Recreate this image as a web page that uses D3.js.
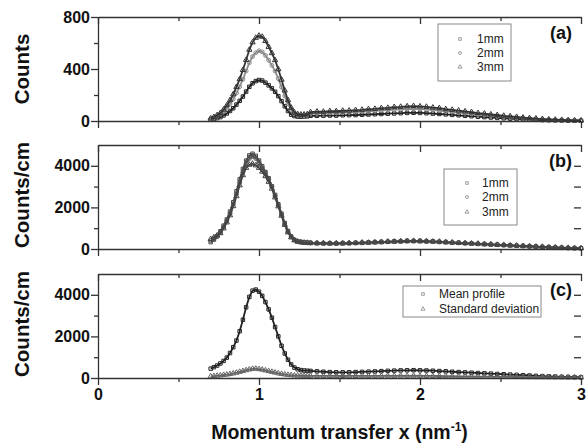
<!DOCTYPE html>
<html>
<head>
<meta charset="utf-8">
<script src="https://cdn.jsdelivr.net/npm/d3@7"></script>
<style>
  body { margin: 0; background: #fff; }
  svg { font-family: "Liberation Sans", Arial, sans-serif; }
</style>
</head>
<body>
<div id="chart"></div>
<script>
// Momentum transfer grid (nm^-1): fine steps over the peak, coarser in the tail
const xValues = [
  0.70, 0.72, 0.74, 0.76, 0.78, 0.80, 0.82, 0.84, 0.86, 0.88, 0.90, 0.92, 0.94, 0.96, 0.98, 1.00,
  1.02, 1.04, 1.06, 1.08, 1.10, 1.12, 1.14, 1.16, 1.18, 1.20, 1.22, 1.24, 1.26, 1.28, 1.30,
  1.32, 1.36, 1.40, 1.44, 1.48, 1.52, 1.56, 1.60, 1.64, 1.68, 1.72, 1.76, 1.80, 1.84, 1.88, 1.92,
  1.96, 2.00, 2.04, 2.08, 2.12, 2.16, 2.20, 2.24, 2.28, 2.32, 2.36, 2.40, 2.44, 2.48, 2.52, 2.56,
  2.60, 2.64, 2.68, 2.72, 2.76, 2.80, 2.84, 2.88, 2.92, 2.96, 3.00
];

// (a) Counts
const countsA1 = [
  10, 15, 22, 30, 43, 58, 77, 98, 126, 155, 188, 226, 263, 290, 307, 315,
  311, 295, 274, 251, 225, 191, 153, 113, 77, 49, 38, 34, 33, 35, 36,
  40, 40, 41, 42, 42, 44, 45, 46, 48, 50, 52, 54, 56, 58, 60, 62,
  63, 62, 60, 57, 54, 51, 47, 44, 40, 37, 33, 30, 27, 24, 21, 18,
  15, 13, 11, 9, 7, 6, 5, 4, 3, 2, 2
];
const countsA2 = [
  17, 25, 37, 51, 72, 98, 131, 168, 215, 264, 321, 385, 449, 496, 525, 540,
  532, 505, 468, 428, 384, 326, 261, 193, 131, 84, 56, 46, 43, 45, 47,
  56, 58, 60, 62, 63, 65, 67, 69, 72, 75, 78, 81, 84, 87, 90, 92,
  93, 92, 89, 85, 80, 75, 70, 65, 60, 55, 50, 46, 41, 37, 33, 29,
  25, 21, 18, 15, 12, 10, 8, 6, 5, 4, 3
];
const countsA3 = [
  20, 30, 45, 62, 88, 120, 160, 205, 262, 322, 392, 470, 548, 605, 640, 656,
  648, 615, 570, 522, 468, 398, 318, 235, 160, 102, 66, 53, 49, 50, 52,
  68, 72, 71, 76, 75, 79, 80, 84, 86, 91, 93, 99, 101, 107, 109, 113,
  115, 112, 109, 103, 99, 91, 86, 80, 74, 69, 61, 57, 50, 46, 40, 36,
  31, 26, 22, 19, 15, 12, 10, 8, 6, 5, 4
];

// (b) Counts/cm
const countsB1 = [
  330, 450, 620, 850, 1120, 1420, 1800, 2250, 2780, 3350, 3850, 4250, 4500, 4580, 4480, 4250,
  3980, 3700, 3400, 3020, 2600, 2150, 1700, 1250, 870, 600, 440, 370, 335, 315, 305,
  300, 285, 270, 280, 265, 285, 275, 300, 295, 320, 330, 345, 345, 370, 365, 395,
  380, 390, 365, 370, 340, 335, 300, 305, 275, 270, 245, 240, 215, 210, 185, 180,
  155, 150, 125, 120, 95, 90, 70, 62, 48, 44, 34
];
const countsB2 = [
  400, 500, 600, 800, 1050, 1350, 1700, 2150, 2650, 3200, 3700, 4100, 4350, 4450, 4350, 4150,
  3900, 3650, 3350, 3000, 2550, 2100, 1650, 1200, 830, 580, 430, 360, 330, 310, 300,
  290, 280, 275, 270, 270, 275, 280, 290, 300, 310, 325, 335, 350, 360, 370, 380,
  385, 380, 370, 360, 345, 330, 310, 295, 280, 265, 250, 235, 220, 205, 190, 175,
  160, 145, 130, 115, 100, 85, 72, 60, 50, 42, 36
];
const countsB3 = [
  480, 560, 650, 760, 990, 1280, 1620, 2060, 2540, 3060, 3550, 3900, 4050, 4100, 4020, 3900,
  3720, 3500, 3230, 2900, 2480, 2050, 1600, 1160, 800, 560, 420, 350, 325, 305, 295,
  280, 275, 280, 262, 275, 268, 288, 282, 308, 302, 318, 328, 356, 352, 378, 372,
  392, 372, 378, 352, 350, 322, 316, 288, 285, 260, 255, 230, 225, 200, 195, 170,
  165, 140, 135, 110, 105, 80, 75, 58, 52, 40, 38
];

// (c) Mean profile and standard deviation
const meanProfile = [
  450, 520, 600, 700, 820, 980, 1200, 1480, 1800, 2250, 2800, 3400, 3900, 4200, 4250, 4150,
  3950, 3650, 3300, 2900, 2450, 2000, 1550, 1180, 880, 650, 500, 420, 380, 360, 350,
  340, 320, 300, 285, 275, 270, 275, 285, 295, 305, 315, 330, 345, 355, 365, 370,
  375, 370, 360, 350, 335, 320, 300, 285, 270, 255, 240, 225, 210, 195, 180, 165,
  150, 135, 120, 105, 92, 80, 68, 58, 50, 42, 36
];
const stdDeviation = [
  80, 95, 110, 125, 145, 165, 190, 220, 255, 295, 335, 375, 410, 440, 450, 430,
  400, 365, 330, 295, 260, 225, 195, 170, 150, 135, 125, 118, 112, 108, 105,
  105, 102, 100, 98, 100, 97, 102, 99, 104, 101, 105, 103, 108, 104, 110, 106,
  108, 104, 102, 98, 95, 90, 86, 82, 78, 74, 70, 66, 62, 58, 55, 51,
  48, 44, 41, 38, 35, 32, 29, 26, 24, 22, 20
];

const sampleLabels = ["1mm", "2mm", "3mm"];
const profileLabels = ["Mean profile", "Standard deviation"];
const xTicks = [0, 1, 2, 3];
const xMinorTicks = [0.5, 1.5, 2.5];

// Panels: values, labels, y ticks
const panels = [
  { tag: "(a)", title: "Counts", yMax: 800, yTicks: [0, 400, 800], yMinor: [200, 600], rightTicks: [],
    series: [countsA1, countsA2, countsA3], names: sampleLabels },
  { tag: "(b)", title: "Counts/cm", yMax: 5000, yTicks: [0, 2000, 4000], yMinor: [1000, 3000], rightTicks: [1000, 2000, 3000, 4000],
    series: [countsB1, countsB2, countsB3], names: sampleLabels },
  { tag: "(c)", title: "Counts/cm", yMax: 5000, yTicks: [0, 2000, 4000], yMinor: [1000, 3000], rightTicks: [1000, 2000, 3000, 4000],
    series: [meanProfile, stdDeviation], names: profileLabels }
];

// Layout
const width = 587, height = 443;
const plotLeft = 98, plotRight = 581;
const panelTops = [17, 145, 274], panelH = 104;
const legendBoxes = [
  { x: 438, y: 24, w: 73, h: 57, symX: 460, textX: 477, rowY: [39, 53, 67] },
  { x: 444, y: 169, w: 73, h: 56, symX: 467, textX: 482, rowY: [183, 197, 212] },
  { x: 403, y: 286, w: 138, h: 31, symX: 423, textX: 439, rowY: [294, 309] }
];
const symbolsABC = [
  [d3.symbolSquare, d3.symbolCircle, d3.symbolTriangle],
  [d3.symbolSquare, d3.symbolCircle, d3.symbolTriangle],
  [d3.symbolSquare, d3.symbolTriangle]
];
const markColors = [
  ["#222", "#8a8a8a", "#333"],
  ["#444", "#555", "#444"],
  ["#222", "#666"]
];
const axisColor = "#333";

const svg = d3.select("#chart")
  .append("svg")
  .attr("width", width)
  .attr("height", height);

const xScale = d3.scaleLinear().domain([0, 3]).range([plotLeft, plotRight]);

panels.forEach((p, i) => {
  const top = panelTops[i];
  const bottom = top + panelH;
  const yScale = d3.scaleLinear().domain([0, p.yMax]).range([bottom, top]);
  const g = svg.append("g");

  // data: line under open markers, drawn thick to mimic the dense scatter
  p.series.forEach((vals, s) => {
    const pts = xValues.map((x, k) => [x, vals[k]]);
    g.append("path")
      .datum(pts)
      .attr("fill", "none")
      .attr("stroke", markColors[i][s])
      .attr("stroke-width", 1.8)
      .attr("d", d3.line().x(d => xScale(d[0])).y(d => yScale(d[1])));
    g.selectAll(null)
      .data(pts)
      .enter().append("path")
      .attr("transform", d => `translate(${xScale(d[0])},${yScale(d[1])})`)
      .attr("d", d3.symbol().type(symbolsABC[i][s]).size(12))
      .attr("fill", "none")
      .attr("stroke", markColors[i][s])
      .attr("stroke-width", 1);
  });

  // bottom axis (outward ticks), labels only on last panel
  const bottomAxis = d3.axisBottom(xScale).tickValues(xTicks).tickSize(7).tickSizeOuter(0)
    .tickPadding(4)
    .tickFormat(i === 2 ? d3.format("d") : "");
  g.append("g").attr("transform", `translate(0,${bottom})`).call(bottomAxis);
  g.append("g").attr("transform", `translate(0,${bottom})`)
    .call(d3.axisBottom(xScale).tickValues(xMinorTicks).tickSize(4).tickFormat(""))
    .select(".domain").remove();

  // top frame with inward ticks
  g.append("g").attr("transform", `translate(0,${top})`)
    .call(d3.axisBottom(xScale).tickValues(xTicks).tickSize(7).tickSizeOuter(0).tickFormat(""));
  g.append("g").attr("transform", `translate(0,${top})`)
    .call(d3.axisBottom(xScale).tickValues(xMinorTicks).tickSize(4).tickFormat(""))
    .select(".domain").remove();

  // left axis
  g.append("g").attr("transform", `translate(${plotLeft},0)`)
    .call(d3.axisLeft(yScale).tickValues(p.yTicks).tickSize(7).tickSizeOuter(0).tickPadding(1)
      .tickFormat(d3.format("d")));
  g.append("g").attr("transform", `translate(${plotLeft},0)`)
    .call(d3.axisLeft(yScale).tickValues(p.yMinor).tickSize(4).tickFormat(""))
    .select(".domain").remove();

  // right side: inward ticks only
  if (p.rightTicks.length) {
    g.append("g").attr("transform", `translate(${plotRight},0)`)
      .call(d3.axisRight(yScale).tickValues(p.rightTicks).tickSize(-7).tickFormat(""))
      .select(".domain").remove();
  }

  g.selectAll(".domain, .tick line")
    .attr("stroke", axisColor)
    .attr("stroke-width", 1.3);
  g.selectAll(".tick text")
    .attr("fill", "#111")
    .style("font-size", "16px")
    .style("font-weight", "bold")
    .style("font-family", "'Liberation Sans', Arial, sans-serif");

  // y title
  const cy = top + panelH / 2 + (i === 0 ? 0 : -2);
  g.append("text")
    .attr("transform", `translate(29,${cy}) rotate(-90)`)
    .attr("text-anchor", "middle")
    .style("font-size", "20.5px")
    .style("font-weight", "bold")
    .attr("fill", "#111")
    .text(p.title);

  // panel tag
  g.append("text")
    .attr("x", 572)
    .attr("y", top + 22)
    .attr("text-anchor", "end")
    .style("font-size", "18px")
    .style("font-weight", "bold")
    .attr("fill", "#111")
    .text(p.tag);

  // legend
  const lb = legendBoxes[i];
  g.append("rect")
    .attr("x", lb.x).attr("y", lb.y).attr("width", lb.w).attr("height", lb.h)
    .attr("fill", "#fff").attr("stroke", "#888").attr("stroke-width", 1);
  p.names.forEach((name, s) => {
    g.append("path")
      .attr("transform", `translate(${lb.symX},${lb.rowY[s]})`)
      .attr("d", d3.symbol().type(symbolsABC[i][s]).size(7))
      .attr("fill", "none").attr("stroke", "#888").attr("stroke-width", 0.8);
    g.append("text")
      .attr("x", lb.textX).attr("y", lb.rowY[s])
      .attr("dominant-baseline", "central")
      .style("font-size", "12px")
      .attr("fill", "#222")
      .text(name);
  });
});

// x axis title
const xt = svg.append("text")
  .attr("x", (plotLeft + plotRight) / 2)
  .attr("y", 439)
  .attr("text-anchor", "middle")
  .style("font-size", "19.5px")
  .style("font-weight", "bold")
  .attr("fill", "#111");
xt.append("tspan").text("Momentum transfer x (nm");
xt.append("tspan").attr("dy", -8).style("font-size", "12px").text("-1");
xt.append("tspan").attr("dy", 8).text(")");
</script>
</body>
</html>
